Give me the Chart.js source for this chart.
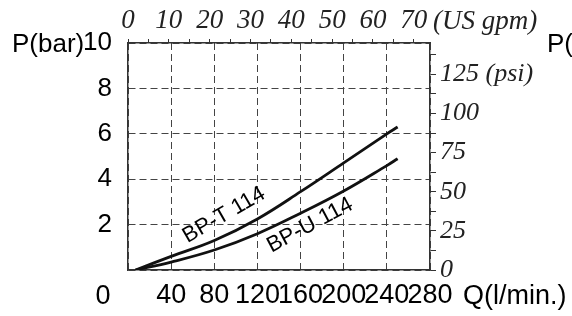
<!DOCTYPE html>
<html>
<head>
<meta charset="utf-8">
<script src="https://cdn.jsdelivr.net/npm/chart.js@4"></script>
<style>
  body { margin: 0; background: #fff; }
  #wrap { width: 572px; height: 316px; }
</style>
</head>
<body>
<div id="wrap"><canvas id="chart" width="572" height="316"></canvas></div>
<script>
// flow in l/min, pressure in bar
const flowT = [7, 40, 80, 120, 160, 200, 240, 250];
const presT = [0, 0.6, 1.3, 2.25, 3.45, 4.72, 6.0, 6.3];
const flowU = [7, 40, 80, 120, 160, 200, 240, 250];
const presU = [0, 0.35, 0.88, 1.6, 2.5, 3.48, 4.6, 4.9];

// axis ticks
const flowTicks = [0, 40, 80, 120, 160, 200, 240, 280];
const barTicks = [0, 2, 4, 6, 8, 10];
const gpmTicks = [0, 5, 10, 15, 20, 25, 30, 35, 40, 45, 50, 55, 60, 65, 70];
const psiTicks = [0, 12.5, 25, 37.5, 50, 62.5, 75, 87.5, 100, 112.5, 125, 137.5];

const LPM_PER_GPM = 3.785411784;
const PSI_PER_BAR = 14.5038;

const sans = '"Liberation Sans", Arial, sans-serif';
const serif = '"Liberation Serif", "Times New Roman", serif';

function toPoints(xs, ys) {
    return xs.map((x, i) => ({ x: x, y: ys[i] }));
}

// texts that sit outside the normal tick labels
const extraText = {
    id: 'extraText',
    afterDraw(chart) {
        const { ctx, scales } = chart;
        const x = scales.x, y = scales.y;
        ctx.save();
        ctx.fillStyle = '#000';
        ctx.textBaseline = 'middle';

        ctx.font = '26px ' + sans;
        ctx.textAlign = 'left';
        ctx.fillText('P(bar)', 12, y.getPixelForValue(10) + 2);
        ctx.fillText('P(bar)', 547, y.getPixelForValue(10) + 2);

        ctx.font = '27px ' + sans;
        ctx.fillText('Q(l/min.)', 463, 297);
        ctx.textAlign = 'center';
        ctx.fillText('0', x.getPixelForValue(0) - 25, 297);

        ctx.font = 'italic 27px ' + serif;
        ctx.textAlign = 'left';
        ctx.fillStyle = '#222';
        ctx.fillText('(US gpm)', 433, 22);

        // curve names
        ctx.fillStyle = '#000';
        ctx.font = '22px ' + sans;
        ctx.textAlign = 'center';
        const names = [
            { text: 'BP-T 114', q: 89, p: 2.42, a: -30 },
            { text: 'BP-U 114', q: 168.7, p: 1.97, a: -28 }
        ];
        names.forEach(n => {
            ctx.save();
            ctx.translate(x.getPixelForValue(n.q), y.getPixelForValue(n.p));
            ctx.rotate(n.a * Math.PI / 180);
            ctx.fillText(n.text, 0, 0);
            ctx.restore();
        });
        ctx.restore();
    }
};

const lineStyle = {
    borderColor: '#111',
    borderWidth: 2.8,
    pointRadius: 0,
    fill: false,
    tension: 0.4
};

new Chart(document.getElementById('chart'), {
    type: 'line',
    data: {
        datasets: [
            Object.assign({ label: 'BP-T 114', data: toPoints(flowT, presT) }, lineStyle),
            Object.assign({ label: 'BP-U 114', data: toPoints(flowU, presU) }, lineStyle)
        ]
    },
    options: {
        responsive: false,
        animation: false,
        layout: { padding: 0 },
        plugins: { legend: { display: false }, tooltip: { enabled: false } },
        scales: {
            x: {
                type: 'linear',
                position: 'bottom',
                min: 0,
                max: 280,
                afterBuildTicks: s => { s.ticks = flowTicks.map(v => ({ value: v })); },
                afterFit: s => { s.height = 46; },
                grid: { color: '#444', lineWidth: 1, drawTicks: false },
                border: { display: true, color: '#333', width: 1.5, dash: [7, 4] },
                ticks: {
                    autoSkip: false, maxRotation: 0, minRotation: 0, padding: 9,
                    color: '#000', font: { family: sans, size: 27 },
                    callback: v => v === 0 ? '' : String(v)
                }
            },
            y: {
                type: 'linear',
                position: 'left',
                min: 0,
                max: 10,
                afterBuildTicks: s => { s.ticks = barTicks.map(v => ({ value: v })); },
                afterFit: s => { s.width = 128; },
                grid: { color: '#444', lineWidth: 1, drawTicks: false },
                border: { display: true, color: '#333', width: 1.5, dash: [7, 4] },
                ticks: {
                    padding: 16, color: '#000', font: { family: sans, size: 26 },
                    callback: v => v === 0 ? '' : String(v)
                }
            },
            x2: {
                type: 'linear',
                axis: 'x',
                position: 'top',
                min: 0,
                max: 280 / LPM_PER_GPM,
                afterBuildTicks: s => { s.ticks = gpmTicks.map(v => ({ value: v })); },
                afterFit: s => { s.height = 43; },
                grid: { drawOnChartArea: false, drawTicks: true, tickLength: 4, color: '#333' },
                border: { display: true, color: '#333', width: 1.5 },
                ticks: {
                    autoSkip: false, maxRotation: 0, minRotation: 0, padding: 2,
                    color: '#222', font: { family: serif, size: 27, style: 'italic' },
                    callback: v => v % 10 === 0 ? String(v) : ''
                }
            },
            y2: {
                type: 'linear',
                axis: 'y',
                position: 'right',
                min: 0,
                max: 10 * PSI_PER_BAR,
                afterBuildTicks: s => { s.ticks = psiTicks.map(v => ({ value: v })); },
                afterFit: s => { s.width = 142; },
                grid: { drawOnChartArea: false, drawTicks: true, tickLength: 6, color: '#333' },
                border: { display: true, color: '#333', width: 1.5 },
                ticks: {
                    autoSkip: false, padding: 4,
                    color: '#222', font: { family: serif, size: 26, style: 'italic' },
                    callback: v => v % 25 !== 0 ? '' : (v === 125 ? '125 (psi)' : String(v))
                }
            }
        }
    },
    plugins: [extraText]
});
</script>
</body>
</html>
